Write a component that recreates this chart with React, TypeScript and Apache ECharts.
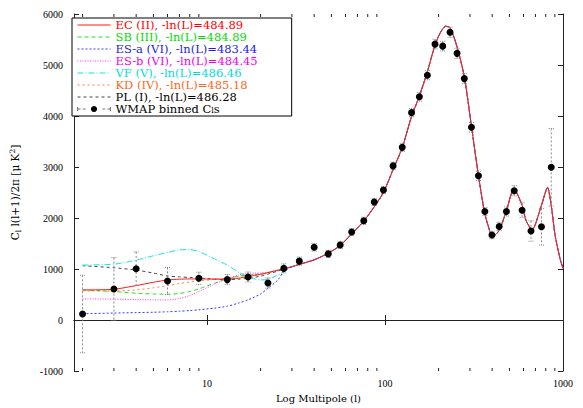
import React, { useEffect, useRef } from 'react';
import * as echarts from 'echarts';

// Model curves: low-multipole part differs per model, high-multipole part is shared
const lowEll = [2, 3, 4, 5, 6, 7, 8, 9, 11, 13, 15, 17, 20, 22, 25, 27];
const ecLow = [590, 603, 675, 740, 784, 800, 805, 805, 803, 803, 820, 850, 895, 928, 975, 1005];
const sbLow = [590, 558, 525, 510, 506, 520, 560, 610, 720, 810, 860, 880, 900, 930, 975, 1000];
const esaLow = [123, 136, 145, 152, 161, 172, 185, 200, 232, 270, 330, 395, 510, 622, 784, 947];
const esbLow = [414, 409, 400, 395, 395, 420, 480, 560, 700, 817, 880, 920, 920, 935, 975, 1000];
const vfLow = [1076, 1095, 1173, 1260, 1323, 1375, 1380, 1340, 1200, 1076, 940, 850, 784, 798, 880, 947];
const kdLow = [570, 570, 590, 630, 675, 715, 745, 765, 795, 817, 850, 881, 910, 935, 975, 1000];
const plLow = [1064, 1025, 979, 920, 862, 845, 835, 825, 800, 790, 800, 817, 860, 900, 960, 995];

const highEll = [30, 33, 40, 48, 56, 65, 76, 87, 98, 111, 125, 141, 156, 173, 191, 205, 219, 232, 254, 279, 306, 335, 364, 385, 400, 438, 481, 530, 589, 620, 670, 757, 819, 859, 903, 962, 1000];
const highCl = [1045, 1090, 1180, 1310, 1460, 1690, 1940, 2220, 2500, 2950, 3380, 3990, 4390, 4870, 5390, 5640, 5760, 5730, 5356, 4770, 3800, 2830, 2080, 1780, 1630, 1757, 2146, 2570, 2250, 1950, 1770, 2250, 2600, 2243, 1660, 1206, 1012];

// WMAP binned data
const wmapEll = [2, 3, 4, 6, 9, 13, 17, 22, 27, 33, 40, 48, 56, 65, 76, 87, 98, 111, 125, 141, 156, 173, 191, 211, 232, 254, 279, 306, 335, 364, 399, 438, 481, 532, 589, 661, 757, 859];
const wmapCl = [117, 609, 1005, 765, 817, 792, 843, 726, 1012, 1154, 1426, 1297, 1472, 1725, 1945, 2315, 2549, 3022, 3385, 4066, 4377, 4800, 5409, 5370, 5642, 5228, 4733, 3780, 2827, 2127, 1667, 1835, 2127, 2535, 2153, 1745, 1829, 2996];
const wmapErr = [760, 615, 330, 265, 120, 100, 100, 100, 90, 80, 75, 70, 70, 70, 70, 70, 70, 75, 80, 80, 85, 90, 95, 95, 100, 100, 100, 95, 90, 80, 75, 80, 90, 100, 145, 200, 360, 760];

const minorTickVals = [2, 3, 4, 5, 6, 7, 8, 9, 20, 30, 40, 50, 60, 70, 80, 90, 200, 300, 400, 500, 600, 700, 800, 900];

const modelNames = [
  'EC (II), -ln(L)=484.89',
  'SB (III), -ln(L)=484.89',
  'ES-a (VI), -ln(L)=483.44',
  'ES-b (VI), -ln(L)=484.45',
  'VF (V), -ln(L)=486.46',
  'KD (IV), -ln(L)=485.18',
  'PL (I), -ln(L)=486.28',
];
const wmapName = 'WMAP binned Cls';
const modelLow = [ecLow, sbLow, esaLow, esbLow, vfLow, kdLow, plLow];
const lineColors = ['#ff1a1a', '#22e022', '#3a3aff', '#ff30ff', '#18e0e0', '#ff7a3a', '#444444'];
const textColors = ['#ff0000', '#00dd00', '#2222dd', '#ee00ee', '#00dddd', '#ff6622', '#000000'];
const dashes: any[] = ['solid', [4, 3], [2, 2], [1, 1.5], [6, 2, 1, 2], [2, 3], [3, 3]];
const drawOrder = [6, 5, 4, 1, 2, 3, 0];

export default function App() {
  const ref = useRef<HTMLDivElement>(null);
  useEffect(() => {
    if (!ref.current) return;
    document.body.style.margin = '0';
    const chart = echarts.init(ref.current, null, { renderer: 'svg' });
    const font = 'Liberation Serif';
    const wideFont = 'DejaVu Serif';

    const modelSeries = drawOrder.map((i) => ({
      name: modelNames[i],
      type: 'line',
      xAxisIndex: 0,
      yAxisIndex: 0,
      symbol: 'none',
      smooth: 0.25,
      lineStyle: { color: lineColors[i], width: 1, type: dashes[i] },
      itemStyle: { color: lineColors[i] },
      data: [
        ...lowEll.map((l, k) => [l, modelLow[i][k]]),
        ...highEll.map((l, k) => [l, highCl[k]]),
      ],
      z: 3,
    }));

    const option: any = {
      animation: false,
      textStyle: { fontFamily: font },
      grid: { left: 64, right: 20, top: 14, bottom: 33 },
      xAxis: [
        {
          type: 'log',
          logBase: 10,
          min: 1.79,
          max: 1000,
          position: 'bottom',
          name: 'Log Multipole (l)',
          nameLocation: 'middle',
          nameGap: 22,
          nameTextStyle: { fontFamily: wideFont, fontSize: 10, color: '#000' },
          axisLine: { show: true, lineStyle: { color: '#222', width: 1 } },
          axisTick: { show: true, inside: true, length: 5, lineStyle: { color: '#222' } },
          axisLabel: {
            showMinLabel: false,
            margin: 7,
            fontFamily: font,
            fontSize: 10,
            color: '#000',
            formatter: (v: number) => String(Math.round(v)),
          },
          splitLine: { show: false },
        },
        {
          type: 'log',
          logBase: 10,
          min: 1.79,
          max: 1000,
          position: 'top',
          axisLine: { show: true, lineStyle: { color: '#222', width: 1 } },
          axisTick: { show: true, inside: true, length: 5, lineStyle: { color: '#222' } },
          axisLabel: { show: false },
          splitLine: { show: false },
        },
      ],
      yAxis: [
        {
          type: 'value',
          min: -1000,
          max: 6000,
          interval: 1000,
          position: 'left',
          name: '{c|C}{sub|l}{c| l(l+1)/2π [μ K}{sup|2}{c|]}',
          nameLocation: 'middle',
          nameGap: 52,
          nameRotate: 90,
          nameTextStyle: {
            fontFamily: wideFont,
            fontSize: 10.5,
            color: '#000',
            rich: {
              c: { fontFamily: wideFont, fontSize: 10.5, color: '#000', lineHeight: 14 },
              sub: { fontFamily: wideFont, fontSize: 7.5, color: '#000', verticalAlign: 'bottom', lineHeight: 8 },
              sup: { fontFamily: wideFont, fontSize: 7.5, color: '#000', verticalAlign: 'top', lineHeight: 8 },
            },
          },
          axisLine: { show: true, lineStyle: { color: '#222', width: 1 } },
          axisTick: { show: true, inside: true, length: 5, lineStyle: { color: '#222' } },
          axisLabel: {
            margin: 11,
            fontFamily: font,
            fontSize: 10,
            color: '#000',
            formatter: (v: number) => String(v),
          },
          splitLine: { show: false },
        },
        {
          type: 'value',
          min: -1000,
          max: 6000,
          interval: 1000,
          position: 'right',
          axisLine: { show: true, lineStyle: { color: '#222', width: 1 } },
          axisTick: { show: true, inside: true, length: 5, lineStyle: { color: '#222' } },
          axisLabel: { show: false },
          splitLine: { show: false },
        },
      ],
      legend: {
        orient: 'vertical',
        left: 72,
        top: 18,
        padding: [1, 34, 1, 5],
        itemGap: 0,
        itemWidth: 33,
        itemHeight: 11,
        borderColor: '#000',
        borderWidth: 1,
        backgroundColor: '#fff',
        lineStyle: { width: 1 },
        textStyle: {
          fontFamily: wideFont,
          fontSize: 11.5,
          lineHeight: 11.1,
          rich: {
            sub: { fontFamily: wideFont, fontSize: 8, color: '#000', verticalAlign: 'bottom', lineHeight: 8 },
          },
        },
        formatter: (n: string) => (n === wmapName ? 'WMAP binned C{sub|l}s' : n),
        data: [
          ...modelNames.map((n, i) => ({
            name: n,
            itemStyle: { opacity: 0 },
            textStyle: { color: textColors[i] },
          })),
          {
            name: wmapName,
            icon: 'path://M0,2.7h3v0.6h-3z M5,2.7h3v0.6h-3z M24,2.7h3v0.6h-3z M29,2.7h3v0.6h-3z M0,1h0.6v4h-0.6z M31.4,1h0.6v4h-0.6z M16,0 A3,3 0 1,1 15.99,0 Z',
            itemStyle: { color: '#000', opacity: 1 },
            textStyle: { color: '#000' },
          },
        ],
      },
      series: [
        ...modelSeries,
        {
          name: 'errorbars',
          type: 'custom',
          xAxisIndex: 0,
          yAxisIndex: 0,
          silent: true,
          encode: { x: 0, y: [1, 2] },
          data: wmapEll.map((l, k) => [l, wmapCl[k] - wmapErr[k], wmapCl[k] + wmapErr[k]]),
          renderItem: (params: any, api: any) => {
            const l = api.value(0);
            const top = api.coord([l, api.value(2)]);
            const bot = api.coord([l, api.value(1)]);
            const st = { stroke: '#888', lineWidth: 1, lineDash: [2, 2] };
            const cap = { stroke: '#888', lineWidth: 1, lineDash: [1, 1] };
            return {
              type: 'group',
              children: [
                { type: 'line', shape: { x1: top[0], y1: top[1], x2: bot[0], y2: bot[1] }, style: st },
                { type: 'line', shape: { x1: top[0] - 2.5, y1: top[1], x2: top[0] + 2.5, y2: top[1] }, style: cap },
                { type: 'line', shape: { x1: bot[0] - 2.5, y1: bot[1], x2: bot[0] + 2.5, y2: bot[1] }, style: cap },
              ],
            };
          },
          z: 4,
        },
        {
          name: wmapName,
          type: 'scatter',
          xAxisIndex: 0,
          yAxisIndex: 0,
          symbol: 'circle',
          symbolSize: 7,
          itemStyle: { color: '#000', opacity: 1 },
          data: wmapEll.map((l, k) => [l, wmapCl[k]]),
          z: 6,
        },
        {
          name: 'minorticks',
          type: 'custom',
          xAxisIndex: 0,
          yAxisIndex: 0,
          silent: true,
          clip: false,
          encode: { x: 0, y: 1 },
          data: minorTickVals.map((v) => [v, 0]),
          renderItem: (params: any, api: any) => {
            const v = api.value(0);
            const b = api.coord([v, -1000]);
            const t = api.coord([v, 6000]);
            const s = { stroke: '#222', lineWidth: 1 };
            return {
              type: 'group',
              children: [
                { type: 'line', shape: { x1: b[0], y1: b[1], x2: b[0], y2: b[1] - 3 }, style: s },
                { type: 'line', shape: { x1: t[0], y1: t[1], x2: t[0], y2: t[1] + 3 }, style: s },
              ],
            };
          },
          z: 7,
        },
      ],
    };
    chart.setOption(option);
    return () => chart.dispose();
  }, []);
  return <div ref={ref} style={{ width: 583, height: 408 }} />;
}
